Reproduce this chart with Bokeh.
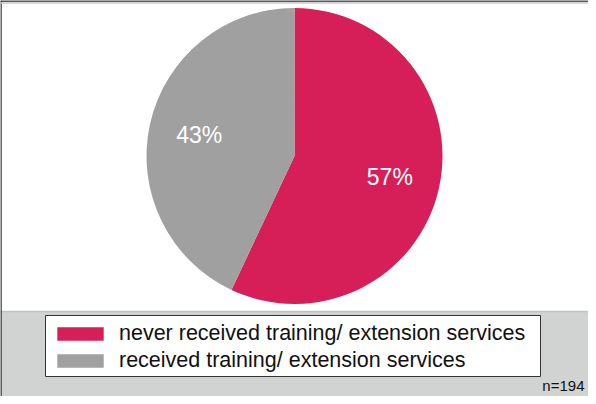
import numpy as np
from bokeh.plotting import figure
from bokeh.models import Range1d, ColumnDataSource, Legend, LegendItem, BoxAnnotation, Span, Label
from bokeh.core.properties import value
from bokeh.embed import file_html
from bokeh.resources import INLINE

# ---- data ----
categories = ["never received training/ extension services", "received training/ extension services"]
shares = [57, 43]
colors = ["#D61F58", "#A0A0A1"]
sample_note = "n=194"

W, H = 588, 396
p = figure(width=W, height=H, output_backend="svg", toolbar_location=None,
           x_range=Range1d(0, W), y_range=Range1d(0, H), min_border=0)
p.axis.visible = False
p.grid.visible = False
p.outline_line_color = None
p.background_fill_color = "white"
p.border_fill_color = "white"

# grey band at bottom
p.add_layout(BoxAnnotation(bottom=0, top=85, fill_color="#D0D3D2", fill_alpha=1.0,
                           line_color=None, level="underlay"))
p.add_layout(Span(location=85, dimension="width", line_color="#BFC3C2", line_width=1.5, level="underlay"))

# frame lines (left, top)
p.add_layout(Span(location=0.5, dimension="height", line_color="#333333", line_width=1.5))
p.add_layout(Span(location=395.5, dimension="width", line_color="#222222", line_width=1.5))
p.add_layout(Span(location=393.5, dimension="width", line_color="#C8C8C8", line_width=1.5))

# legend frame
p.add_layout(BoxAnnotation(left=45, right=540, bottom=20, top=81, fill_color="white", fill_alpha=1.0,
                           line_color="#333333", line_width=1, line_alpha=1.0, level="underlay"))

# pie
cx, cy, r = 294, 240.5, 148
frac = np.array(shares, dtype=float) / sum(shares)
cum = np.concatenate([[0], np.cumsum(frac)])
start = np.pi / 2 - 2 * np.pi * cum[:-1]
end = np.pi / 2 - 2 * np.pi * cum[1:]
mid = (start + end) / 2
src = ColumnDataSource(dict(x=[cx] * len(shares), y=[cy] * len(shares), start=start, end=end,
                            color=colors, cat=categories,
                            lx=cx + 0.66 * r * np.cos(mid), ly=cy + 0.66 * r * np.sin(mid),
                            lab=[f"{s}%" for s in shares]))
w = p.wedge(x="x", y="y", radius=r, start_angle="start", end_angle="end", direction="clock",
            fill_color="color", line_color=None, source=src)
p.text(x="lx", y="ly", text="lab", source=src, text_color="white", text_font=value("Liberation Sans"),
       text_font_size="23px", text_align="center", text_baseline="middle")

legend = Legend(items=[LegendItem(label=c, renderers=[w], index=i) for i, c in enumerate(categories)],
                location=(51, 23), orientation="vertical",
                label_text_font="Liberation Sans", label_text_font_size="21.5px", label_text_color="#111111",
                glyph_width=58, glyph_height=17, label_standoff=10, spacing=2, padding=0,
                border_line_color=None, background_fill_alpha=0.0, margin=0)
p.add_layout(legend, "center")

p.add_layout(Label(x=584, y=3, text=sample_note, text_font="Liberation Sans", text_font_size="15px",
                   text_color="#111111", text_baseline="bottom", text_align="right"))

open("out.html", "w").write(file_html(p, INLINE))
